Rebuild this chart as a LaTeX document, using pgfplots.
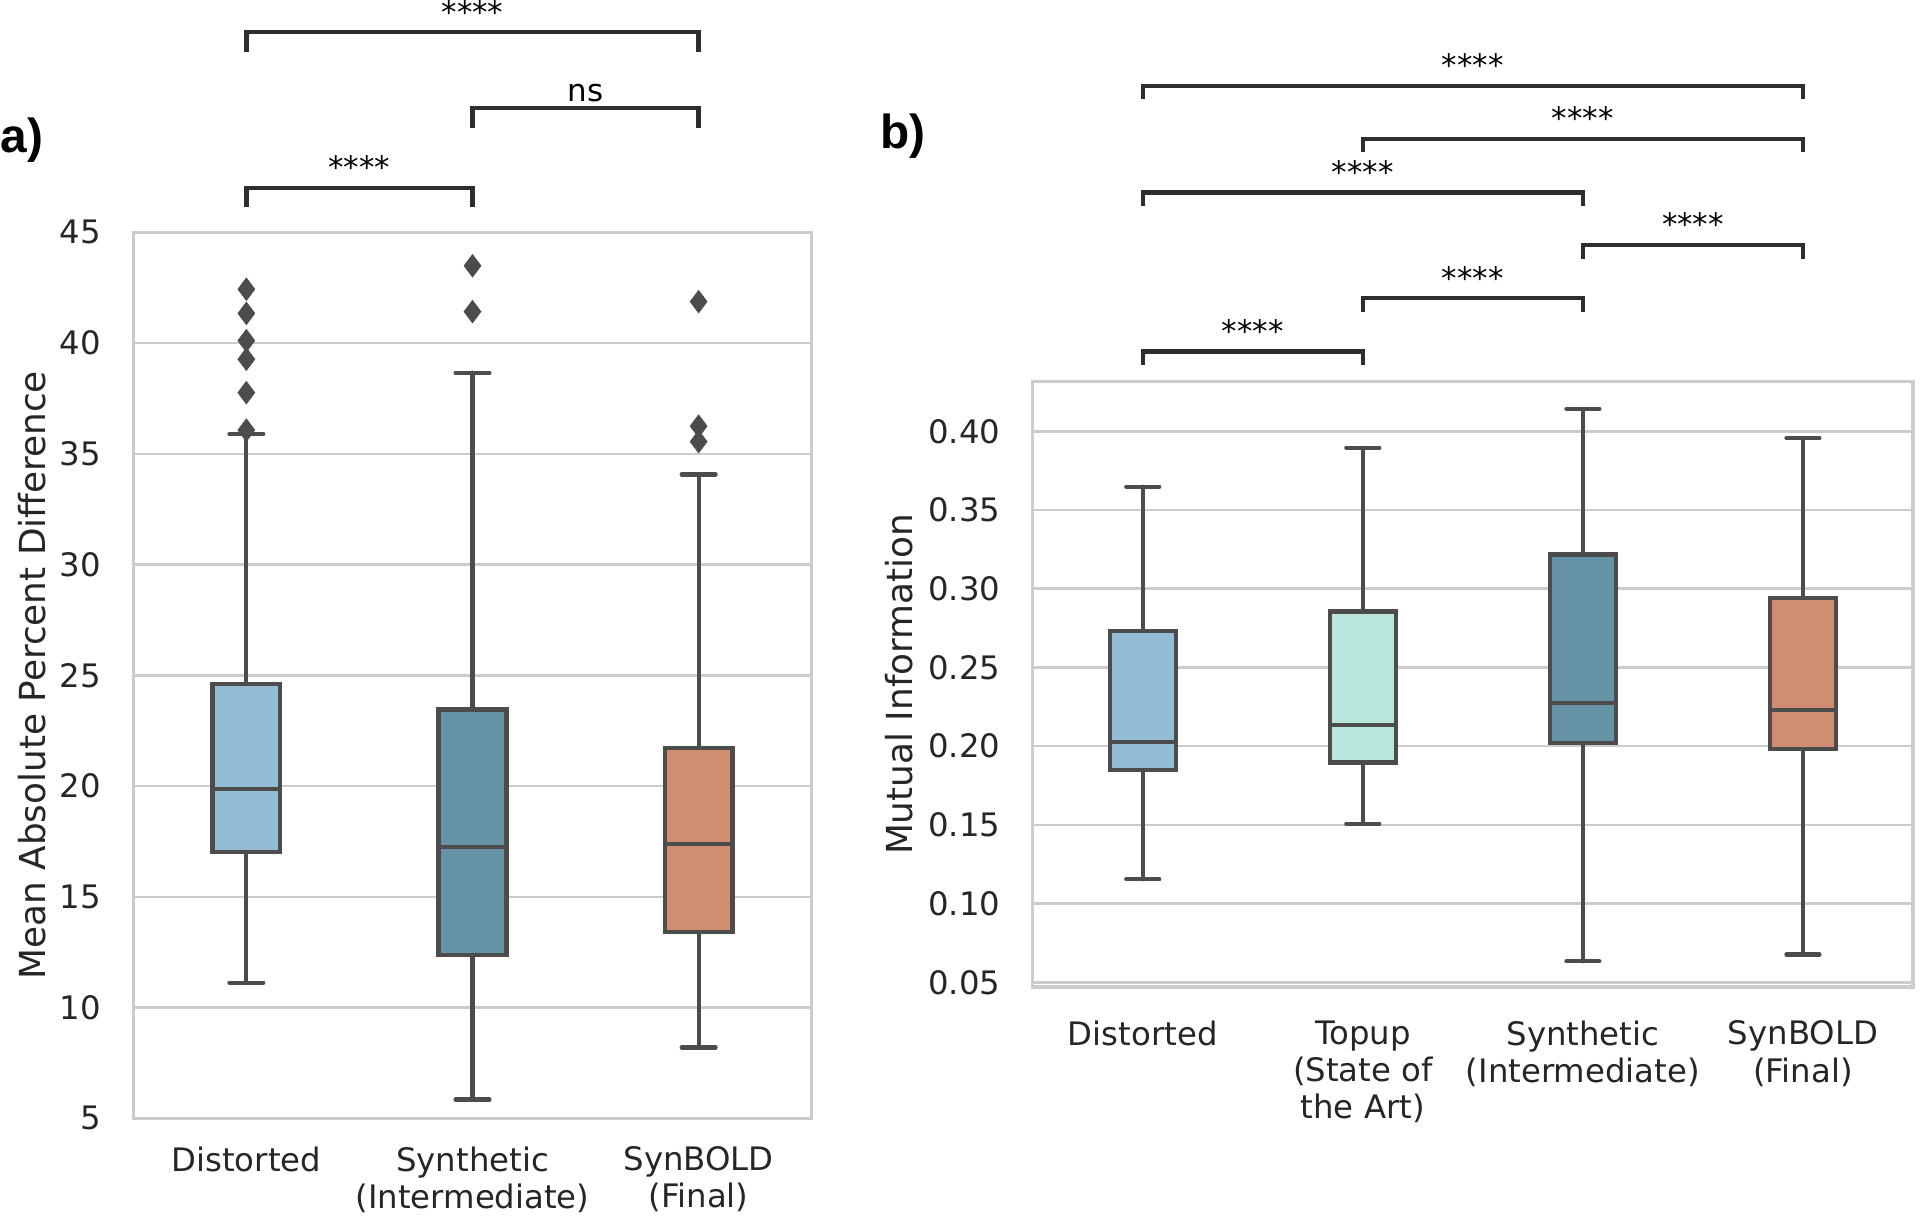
\documentclass[border=0pt]{standalone}
\usepackage{fontspec}
\setmainfont{DejaVu Sans}
\newfontfamily\panelfont{Liberation Sans}
\usepackage{pgfplots}
\pgfplotsset{compat=1.18}
\usepgfplotslibrary{statistics}

\definecolor{cDist}{HTML}{93BCD4}
\definecolor{cSyn}{HTML}{6793A6}
\definecolor{cBold}{HTML}{D18D71}
\definecolor{cTop}{HTML}{B8E5DC}
\definecolor{cLine}{HTML}{4C4C4C}
\definecolor{cGrid}{HTML}{CCCCCC}
\definecolor{cText}{HTML}{262626}
\definecolor{cBr}{HTML}{2E2E2E}

\pgfplotsset{
  panel/.style={
    scale only axis,
    axis line style={cGrid, line width=0.95pt},
    ymajorgrids, grid style={cGrid, line width=0.7pt},
    major tick length=0pt,
    tick label style={font=\fontsize{9.2}{10.6}\selectfont, text=cText},
    yticklabel style={xshift=-5.7pt, /pgf/number format/assume math mode=true},
    xticklabel style={align=center, yshift=-4.5pt},
    label style={font=\fontsize{10.2}{12}\selectfont, text=cText},
    ylabel style={anchor=base},
    clip=false,
  },
  bp/.style={
    boxplot/draw direction=y,
    boxplot/every box/.style={draw=cLine, fill=#1, line width=1.2pt},
    boxplot/every median/.style={draw=cLine, line width=1.2pt},
    boxplot/every whisker/.style={draw=cLine, line width=1.2pt, line cap=round},
    draw=cLine, line width=1.2pt, solid,
    mark=diamond*, mark size=3.2pt,
    mark options={fill=cLine, draw=cLine, line width=0.2pt},
  },
  br/.style={cBr, line width=1.25pt, mark=none, solid},
}
\newcommand{\sig}[3]{\node[anchor=base, inner sep=0pt, yshift=2.6pt, font=\fontsize{8.8}{10}\selectfont, text=black] at (axis cs:#1,#2) {#3};}
\newcommand{\ns}[3]{\node[anchor=base, inner sep=0pt, yshift=1.8pt, font=\fontsize{8.8}{10}\selectfont, text=black] at (axis cs:#1,#2) {#3};}

\begin{document}
\begin{tikzpicture}
% ---------------- panel a ----------------
\begin{axis}[panel,
  at={(1.333cm,0.967cm)}, anchor=south west,
  width=6.784cm, height=8.86cm,
  xmin=-0.5, xmax=2.5, ymin=5, ymax=45,
  xtick={0,1,2},
  xticklabels={Distorted,{Synthetic\\(Intermediate)},{SynBOLD\\(Final)}},
  ytick={5,10,15,20,25,30,35,40,45},
  ylabel={Mean Absolute Percent Difference},
  ylabel style={at={(axis description cs:-0.130,0.5)}},
]
\addplot[bp=cDist, boxplot prepared={draw position=0, lower whisker=11.12, lower quartile=17.02, median=19.86, upper quartile=24.61, upper whisker=35.9, box extend=0.3, whisker extend=0.15}]
  coordinates {(0,36.07) (0,37.76) (0,39.27) (0,40.11) (0,41.34) (0,42.43)};
\addplot[bp=cSyn, boxplot prepared={draw position=1, lower whisker=5.85, lower quartile=12.39, median=17.25, upper quartile=23.46, upper whisker=38.66, box extend=0.3, whisker extend=0.15}]
  coordinates {(1,41.42) (1,43.49)};
\addplot[bp=cBold, boxplot prepared={draw position=2, lower whisker=8.2, lower quartile=13.4, median=17.37, upper quartile=21.72, upper whisker=34.07, box extend=0.3, whisker extend=0.15}]
  coordinates {(2,35.55) (2,36.25) (2,41.87)};
% significance brackets
\addplot[br] coordinates {(0,46.16) (0,47.01) (1,47.01) (1,46.16)};
\addplot[br] coordinates {(1,49.7) (1,50.6) (2,50.6) (2,49.7)};
\addplot[br] coordinates {(0,53.15) (0,54.03) (2,54.03) (2,53.15)};
\sig{0.5}{47.01}{****}
\ns{1.5}{50.6}{ns}
\sig{1}{54.03}{****}
\end{axis}

% ---------------- panel b ----------------
\begin{axis}[panel,
  at={(10.327cm,2.28cm)}, anchor=south west,
  width=8.803cm, height=6.053cm,
  xmin=-0.5, xmax=3.5, ymin=0.047, ymax=0.4315,
  xtick={0,1,2,3},
  xticklabels={Distorted,{Topup\\(State of\\the Art)},{Synthetic\\(Intermediate)},{SynBOLD\\(Final)}},
  xticklabel style={yshift=-1.6pt},
  ytick={0.05,0.1,0.15,0.2,0.25,0.3,0.35,0.4},
  yticklabel style={/pgf/number format/.cd, fixed, fixed zerofill, precision=2},
  ylabel={Mutual Information},
  ylabel style={at={(axis description cs:-0.137,0.5)}},
]
\addplot[bp=cDist, boxplot prepared={draw position=0, lower whisker=0.1154, lower quartile=0.1849, median=0.2025, upper quartile=0.2730, upper whisker=0.3648, box extend=0.3, whisker extend=0.15}]
  coordinates {};
\addplot[bp=cTop, boxplot prepared={draw position=1, lower whisker=0.1507, lower quartile=0.1896, median=0.2133, upper quartile=0.2855, upper whisker=0.3895, box extend=0.3, whisker extend=0.15}]
  coordinates {};
\addplot[bp=cSyn, boxplot prepared={draw position=2, lower whisker=0.0633, lower quartile=0.2018, median=0.2276, upper quartile=0.3217, upper whisker=0.4142, box extend=0.3, whisker extend=0.15}]
  coordinates {};
\addplot[bp=cBold, boxplot prepared={draw position=3, lower whisker=0.0677, lower quartile=0.1984, median=0.2228, upper quartile=0.2940, upper whisker=0.3956, box extend=0.3, whisker extend=0.15}]
  coordinates {};
% significance brackets
\addplot[br] coordinates {(0,0.4418) (0,0.4507) (1,0.4507) (1,0.4418)};
\addplot[br] coordinates {(1,0.4756) (1,0.4845) (2,0.4845) (2,0.4756)};
\addplot[br] coordinates {(2,0.5095) (2,0.5184) (3,0.5184) (3,0.5095)};
\addplot[br] coordinates {(0,0.5433) (0,0.5517) (2,0.5517) (2,0.5433)};
\addplot[br] coordinates {(1,0.5771) (1,0.5856) (3,0.5856) (3,0.5771)};
\addplot[br] coordinates {(0,0.6110) (0,0.6194) (3,0.6194) (3,0.6110)};
\sig{0.5}{0.4507}{****}
\sig{1.5}{0.4845}{****}
\sig{2.5}{0.5184}{****}
\sig{1}{0.5517}{****}
\sig{2}{0.5856}{****}
\sig{1.5}{0.6194}{****}
\end{axis}

% panel labels
\node[anchor=base west, inner sep=0pt, font=\panelfont\bfseries\fontsize{13.6}{16}\selectfont] at (0.0,10.62) {a)};
\node[anchor=base west, inner sep=0pt, font=\panelfont\bfseries\fontsize{13.6}{16}\selectfont] at (8.80,10.66) {b)};

\pgfresetboundingbox
\useasboundingbox (0,0) rectangle (19.2,12.15);
\end{tikzpicture}
\end{document}
